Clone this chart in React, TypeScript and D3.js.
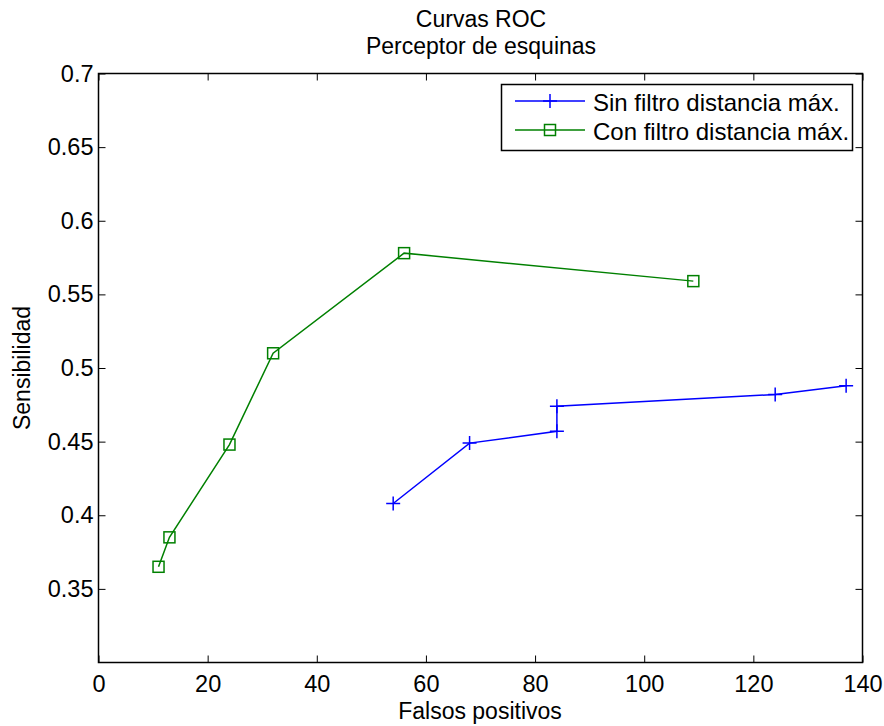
import React, { useEffect, useRef } from 'react'
import * as d3 from 'd3'

// data
const sinX = [54, 68, 84, 84, 124, 137]
const sinY = [0.408, 0.449, 0.457, 0.474, 0.482, 0.488]
const conX = [11, 13, 24, 32, 56, 109]
const conY = [0.365, 0.385, 0.448, 0.51, 0.578, 0.559]
const xTicks = [0, 20, 40, 60, 80, 100, 120, 140]
const yTicks = [0.35, 0.4, 0.45, 0.5, 0.55, 0.6, 0.65, 0.7]
const seriesNames = ['Sin filtro distancia máx.', 'Con filtro distancia máx.']

const W = 884
const H = 726

function App() {
  const svgRef = useRef<SVGSVGElement>(null)

  useEffect(() => {
    const svg = d3.select(svgRef.current)
    svg.selectAll('*').remove()
    const font = 'Liberation Sans, Arial, sans-serif'

    const left = 98.5, right = 862.5, top = 73.5, bottom = 662.5
    const x = d3.scaleLinear().domain([0, 140]).range([left, right])
    const y = d3.scaleLinear().domain([0.3, 0.7]).range([bottom, top])

    svg.append('rect').attr('width', W).attr('height', H).attr('fill', '#fff')

    const tl = 7
    // ticks on all four sides, pointing inwards
    svg.append('g').attr('transform', `translate(0,${bottom})`)
      .call(d3.axisBottom(x).tickValues(xTicks).tickSizeInner(-tl).tickSizeOuter(0).tickPadding(13).tickFormat(d3.format('d')))
    svg.append('g').attr('transform', `translate(0,${top})`)
      .call(d3.axisTop(x).tickValues(xTicks).tickSizeInner(-tl).tickSizeOuter(0).tickFormat(() => ''))
    svg.append('g').attr('transform', `translate(${left},0)`)
      .call(d3.axisLeft(y).tickValues(yTicks).tickSizeInner(-tl).tickSizeOuter(0).tickPadding(5).tickFormat(d => String(+d)))
    svg.append('g').attr('transform', `translate(${right},0)`)
      .call(d3.axisRight(y).tickValues(yTicks).tickSizeInner(-tl).tickSizeOuter(0).tickFormat(() => ''))

    svg.selectAll('.domain').remove()
    svg.selectAll('.tick line').attr('stroke', '#000').attr('stroke-width', 1)
    svg.selectAll('.tick text')
      .attr('font-family', font).attr('font-size', 23.5).attr('fill', '#000')

    svg.append('rect')
      .attr('x', left).attr('y', top).attr('width', right - left).attr('height', bottom - top)
      .attr('fill', 'none').attr('stroke', '#000').attr('stroke-width', 1.5)

    const line = d3.line<[number, number]>().x(d => x(d[0])).y(d => y(d[1]))
    const sin: [number, number][] = sinX.map((v, i) => [v, sinY[i]])
    const con: [number, number][] = conX.map((v, i) => [v, conY[i]])

    const plus = (g: any, cx: number, cy: number, color: string) => {
      g.append('path').attr('d', `M${cx - 7},${cy}H${cx + 7}M${cx},${cy - 7}V${cy + 7}`)
        .attr('stroke', color).attr('stroke-width', 1.5).attr('fill', 'none')
    }
    const square = (g: any, cx: number, cy: number, color: string) => {
      g.append('rect').attr('x', cx - 5.5).attr('y', cy - 5.5).attr('width', 11).attr('height', 11)
        .attr('stroke', color).attr('stroke-width', 1.5).attr('fill', 'none')
    }

    svg.append('path').attr('d', line(sin)).attr('fill', 'none').attr('stroke', '#0000ff').attr('stroke-width', 1.5)
    const gs = svg.append('g')
    sin.forEach(d => plus(gs, x(d[0]), y(d[1]), '#0000ff'))

    svg.append('path').attr('d', line(con)).attr('fill', 'none').attr('stroke', '#008000').attr('stroke-width', 1.5)
    const gc = svg.append('g')
    con.forEach(d => square(gc, x(d[0]), y(d[1]), '#008000'))

    // legend
    const lg = svg.append('g')
    lg.append('rect').attr('x', 501.5).attr('y', 84.5).attr('width', 351).attr('height', 66)
      .attr('fill', '#fff').attr('stroke', '#000').attr('stroke-width', 1.5)
    const colors = ['#0000ff', '#008000']
    seriesNames.forEach((name, i) => {
      const ly = 101 + i * 29
      lg.append('line').attr('x1', 515).attr('x2', 585).attr('y1', ly).attr('y2', ly)
        .attr('stroke', colors[i]).attr('stroke-width', 1.5)
      if (i === 0) plus(lg, 550, ly, colors[i])
      else square(lg, 550, ly, colors[i])
      lg.append('text').attr('x', 593).attr('y', ly + 10)
        .attr('font-family', font).attr('font-size', 24).text(name)
    })

    // titles and axis labels
    const label = (tx: string, px: number, py: number, rot = false) => {
      svg.append('text')
        .attr('transform', rot ? `translate(${px},${py}) rotate(-90)` : `translate(${px},${py})`)
        .attr('text-anchor', 'middle').attr('font-family', font).attr('font-size', 23).text(tx)
    }
    label('Curvas ROC', 481, 27)
    label('Perceptor de esquinas', 481, 54)
    label('Falsos positivos', 480, 719)
    label('Sensibilidad', 30, 368, true)
  }, [])

  return (
    <div style={{ position: 'absolute', left: 0, top: 0 }}>
      <svg ref={svgRef} width={W} height={H} style={{ display: 'block' }}></svg>
    </div>
  )
}

export default App
